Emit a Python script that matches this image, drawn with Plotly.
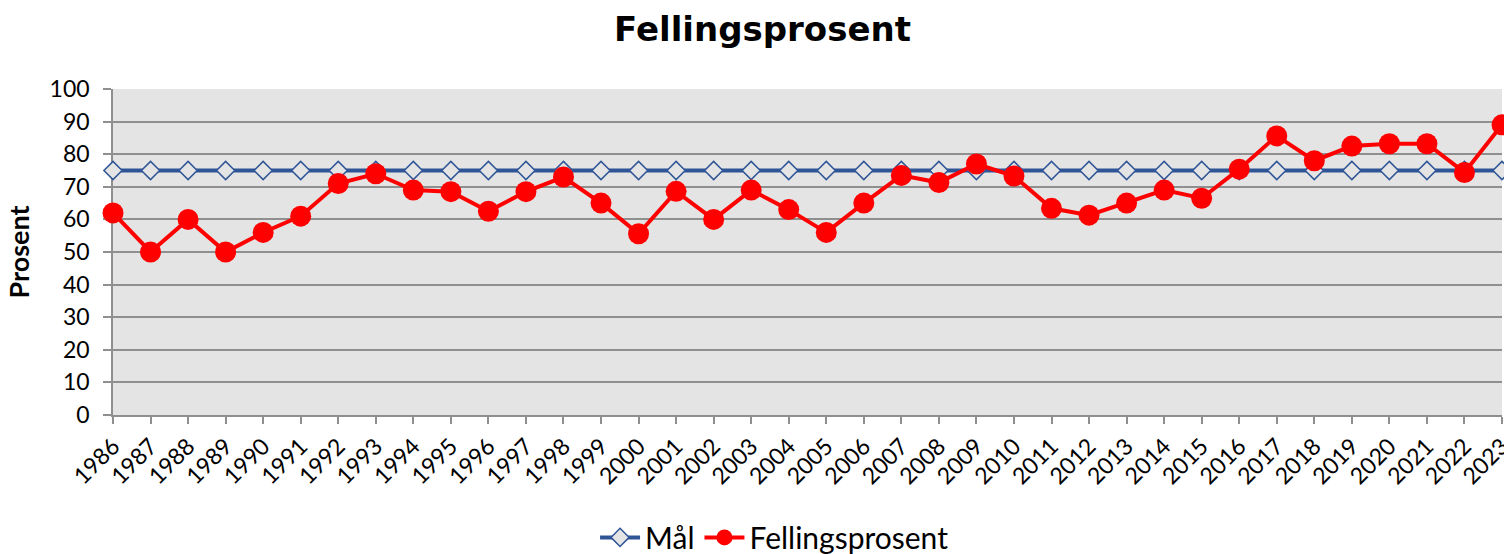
import plotly.graph_objects as go

years = [str(y) for y in range(1986, 2024)]
maal = [75] * 38
felling = [62, 50, 60, 50, 56, 61, 71, 74, 69, 68.5, 62.5, 68.5, 73, 65, 55.6, 68.6, 60, 69, 63, 56,
           65, 73.5, 71.3, 77, 73.3, 63.4, 61.3, 65, 69, 66.5, 75.4, 85.6, 78, 82.5, 83.2, 83.2, 74.4, 89]
y_ticks = list(range(0, 101, 10))

FONT = "Lato"
BG = "#e4e4e4"
GRID = "#8f8f8f"

fig = go.Figure()
fig.add_trace(go.Scatter(
    x=years, y=maal, name="Mål", mode="lines+markers",
    line=dict(color="#2f5597", width=4),
    marker=dict(symbol="diamond", size=14, color=BG, line=dict(color="#2f5597", width=1.5)),
    cliponaxis=False,
))
fig.add_trace(go.Scatter(
    x=years, y=felling, name="Fellingsprosent", mode="lines+markers",
    line=dict(color="#ff0000", width=4),
    marker=dict(symbol="circle", size=21, color="#ff0000"),
    cliponaxis=False,
))

fig.update_layout(
    width=1504, height=554, autosize=False,
    margin=dict(l=113, r=2, t=89, b=139, autoexpand=False),
    paper_bgcolor="white", plot_bgcolor=BG,
    font=dict(family=FONT, size=23, color="black"),
    title=dict(text="<b>Fellingsprosent</b>", x=0.507, xanchor="center", y=0.947, yanchor="middle",
               font=dict(family="DejaVu Sans", size=34, color="black")),
    showlegend=True,
    legend=dict(orientation="h", xref="container", x=0.515, xanchor="center",
                yref="container", y=0.03, yanchor="middle",
                font=dict(family=FONT, size=30), itemwidth=40, bgcolor="rgba(0,0,0,0)"),
    xaxis=dict(
        type="category", range=[0, len(years) - 1], automargin=False,
        tickangle=-45, tickfont=dict(family=FONT, size=23),
        showgrid=False, showline=True, linecolor=GRID, linewidth=1.5,
        ticks="outside", ticklen=7, tickcolor=GRID, tickwidth=1.5,
        layer="below traces",
    ),
    yaxis=dict(
        range=[0, 100], tickvals=y_ticks, tickfont=dict(family=FONT, size=23), automargin=False,
        ticklabelstandoff=9,
        title=dict(text="<b>Prosent</b>", font=dict(family=FONT, size=27), standoff=12),
        showgrid=True, gridcolor=GRID, gridwidth=1.5,
        showline=True, linecolor=GRID, linewidth=1.5,
        ticks="outside", ticklen=8, tickcolor=GRID, tickwidth=1.5,
        zeroline=False, layer="below traces",
    ),
)

fig.write_html("out.html", config={"displayModeBar": False},
               post_script="document.body.style.margin='0';document.body.style.overflow='hidden';")
